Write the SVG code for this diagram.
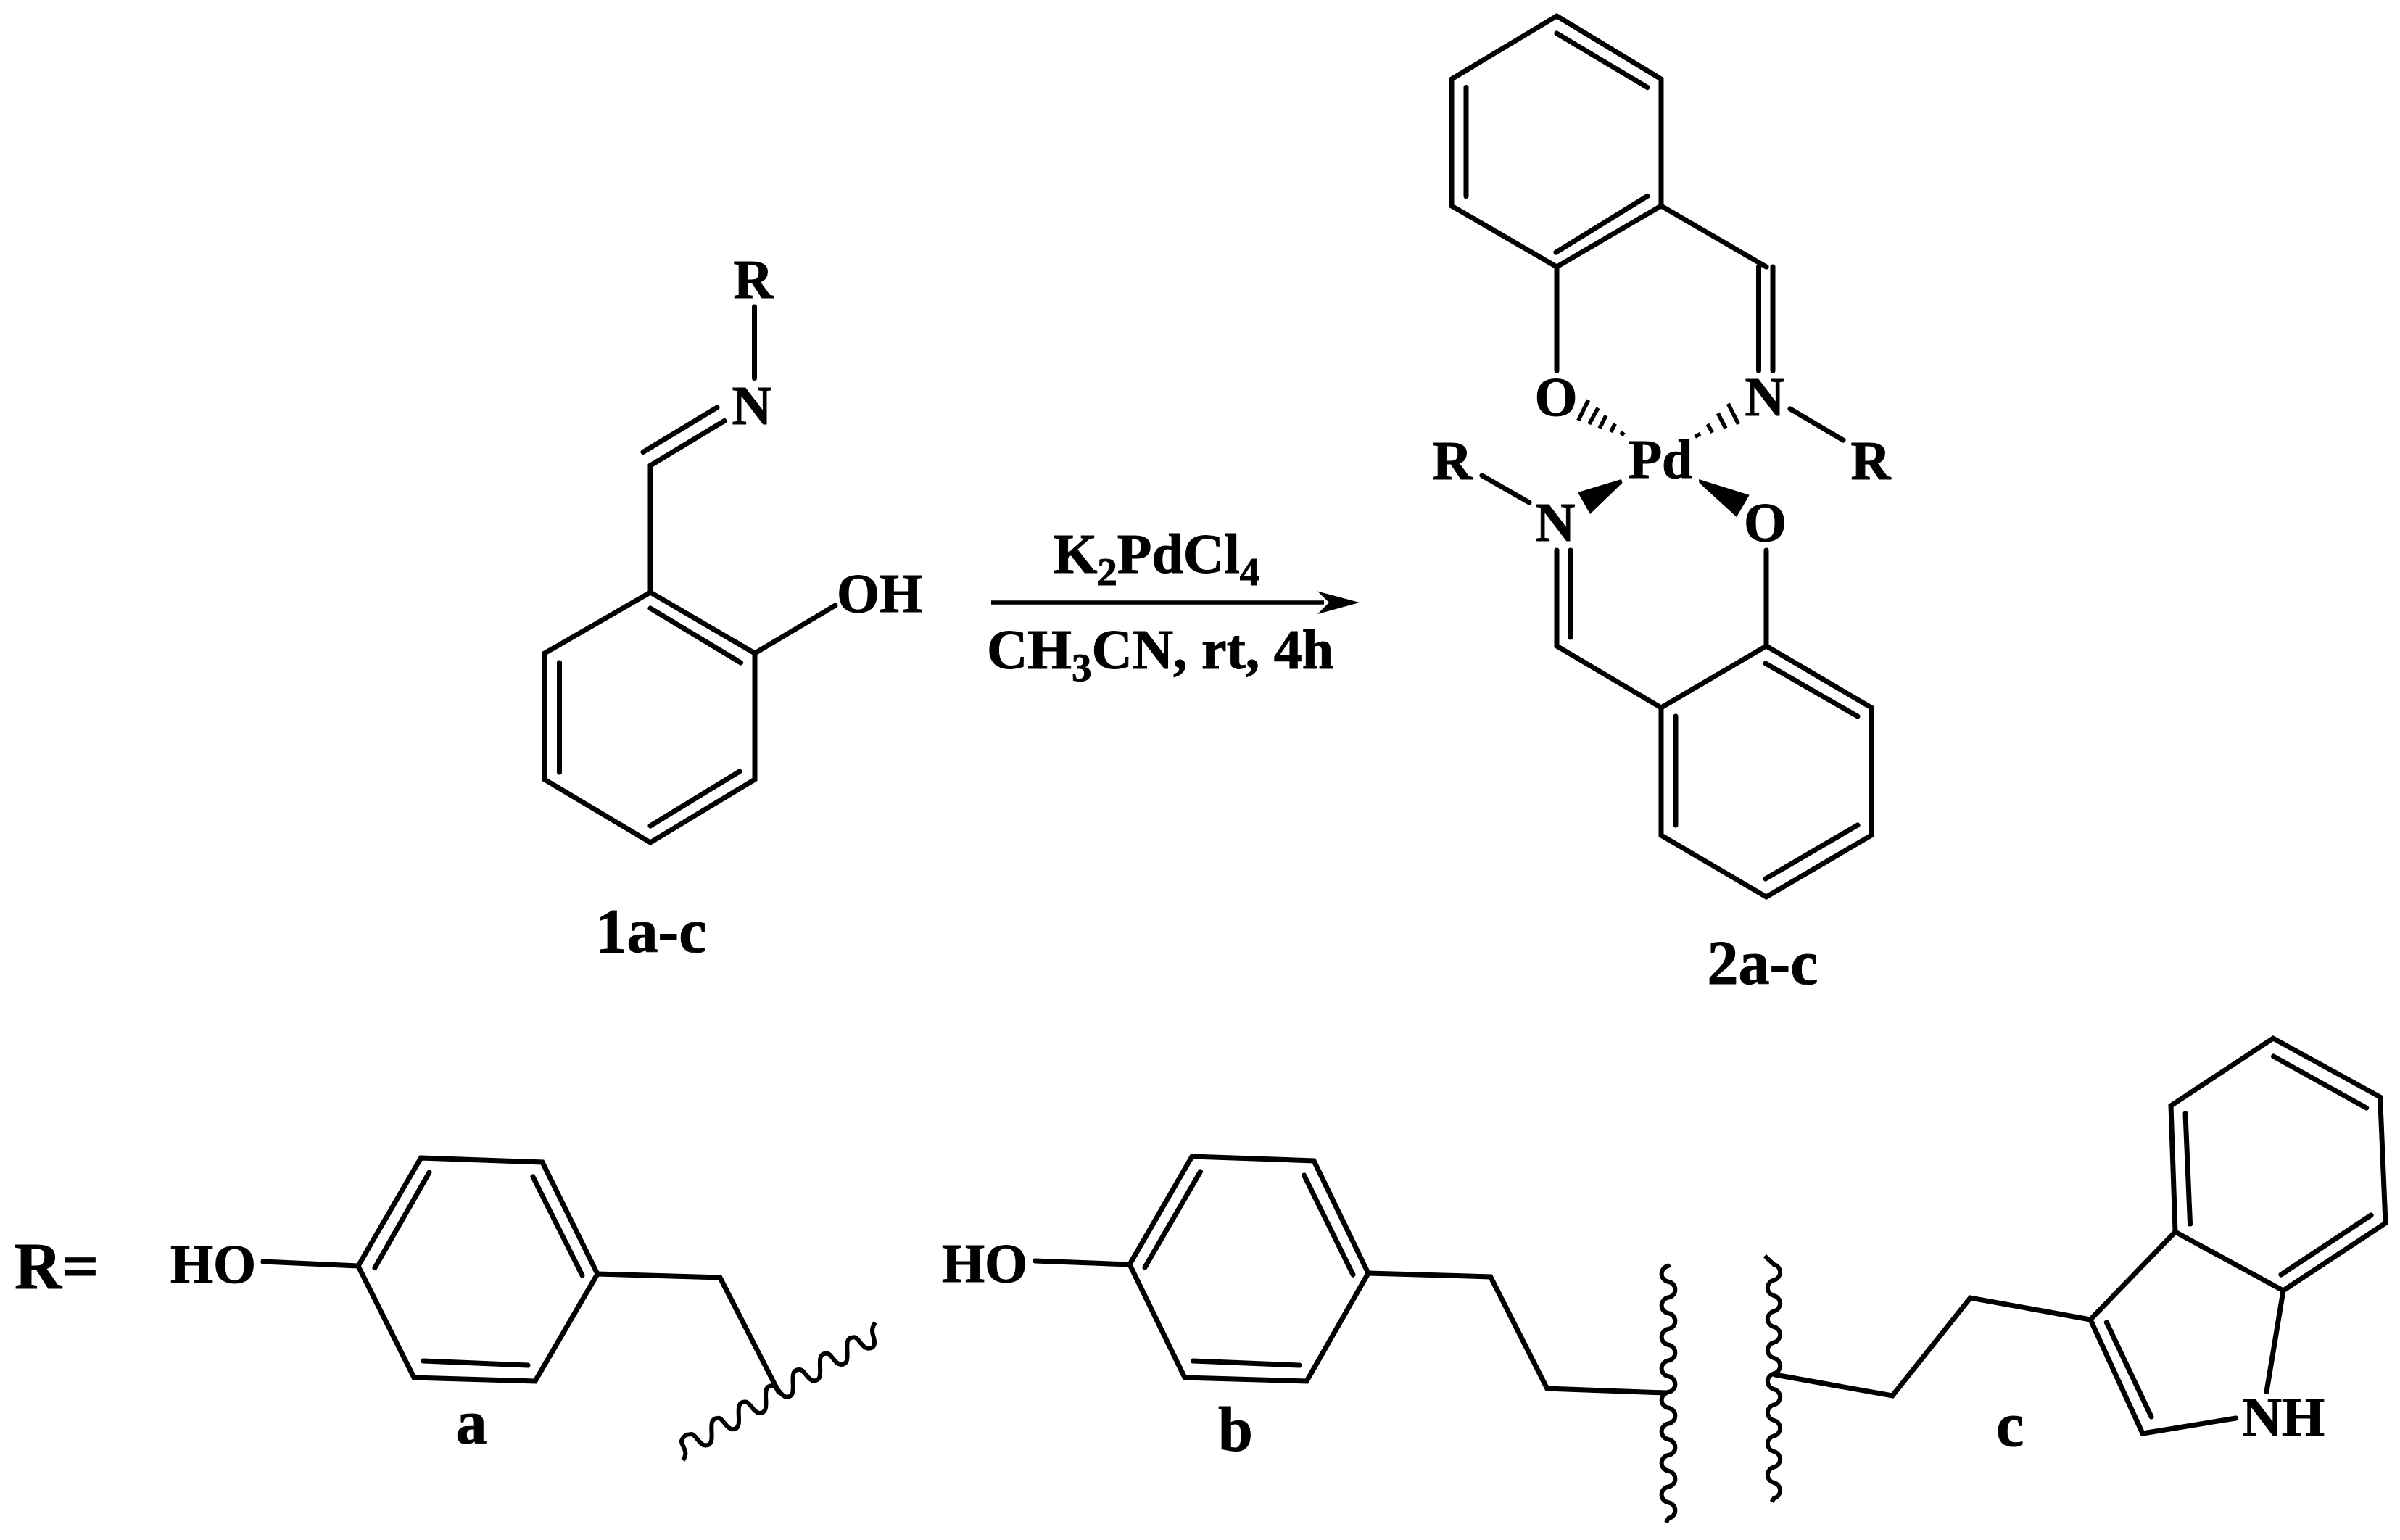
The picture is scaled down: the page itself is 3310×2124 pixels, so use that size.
<svg xmlns="http://www.w3.org/2000/svg" width="3310" height="2124" viewBox="0 0 3310 2124">
<defs>
<style>
.b{fill:none;stroke:#000;stroke-width:7;stroke-linecap:round;stroke-linejoin:miter;stroke-miterlimit:10}
.w{fill:none;stroke:#000;stroke-width:6;stroke-linecap:butt;stroke-linejoin:round}
.s{fill:#000;stroke:none}
text{font-family:"Liberation Serif","Times New Roman",serif;font-weight:700;fill:#000;stroke:#000;stroke-width:1}
.a{font-size:76px;text-anchor:middle}
.l{font-size:86px;text-anchor:middle}
.r{font-size:78px;text-anchor:middle}
.u{font-size:55px}
</style>
</defs>
<rect width="3310" height="2124" fill="#fff"/>

<g id="compound-1">
<path class="b" d="M897,817L1041,901V1075L897,1162L751,1075V901Z"/>
<path class="b" d="M897,839L1021.500,914M771.500,914V1065M897,1139L1020,1064"/>
<path class="b" d="M897,817V642L999,580.500M887,623.500L989,562M1040.500,521.500V423M1041,901L1152,835"/>
<text class="a" x="1039" y="411">R</text>
<text class="a" x="1037" y="585">N</text>
<text class="a" x="1213" y="844">OH</text>
<text class="l" x="898" y="1313">1a-c</text>
</g>

<g id="connectors">
<path d="M1367,831H1826" fill="none" stroke="#000" stroke-width="5.500"/>
<polygon class="s" points="1875,831 1817,815.500 1833,831 1817,847"/>
</g>

<g id="conditions">
<text class="r" x="1595" y="790">K<tspan class="u" dy="17">2</tspan><tspan dy="-17">PdCl</tspan><tspan class="u" dy="17">4</tspan></text>
<text class="r" x="1600" y="922">CH<tspan class="u" dy="17">3</tspan><tspan dy="-17">CN, rt, 4h</tspan></text>
</g>

<g id="compound-2">
<path class="b" d="M2147,22L2291,109V284L2147,368L2002,284V109Z"/>
<path class="b" d="M2147,46L2272,120.500M2022,120.500V270.500M2146,348L2272,270.500"/>
<path class="b" d="M2291,284L2436,368M2425.500,368V511M2445,368V511M2147,368V511M2469,564L2542,607"/>
<path class="b" d="M2436,891L2581,976V1152L2436,1237L2291,1152V976Z"/>
<path class="b" d="M2435,915L2562,988M2311,988V1138M2435,1212L2562,1138"/>
<path class="b" d="M2147,891L2291,976M2147,759V891M2166,759V879M2436,759V891M2044,656L2109,693"/>
<path d="M2190.700,551.700L2176.700,580M2204,562.700L2191.700,585M2215,573.300L2206,590.700M2227.300,584.300L2221.700,596M2235,596L2240,600M2383.300,556.700L2397.700,585M2369.300,570L2380,590.700M2355,585L2361.700,596.700M2337.700,602.300L2345,598.300" fill="none" stroke="#000" stroke-width="5.500"/>
<polygon class="s" points="2236,661 2237.500,666 2193,709 2176,679"/>
<polygon class="s" points="2343,661 2412.700,682.700 2395,713 2343.500,666"/>
<text class="a" x="2146" y="573">O</text>
<text class="a" x="2434" y="573">N</text>
<text class="a" x="2580" y="661">R</text>
<text class="a" x="2290" y="659">Pd</text>
<text class="a" x="2003" y="661">R</text>
<text class="a" x="2145" y="746">N</text>
<text class="a" x="2434.500" y="746">O</text>
<text class="l" x="2431" y="1357">2a-c</text>
</g>

<g id="r-label">
<text font-size="90" x="20" y="1777">R=</text>
</g>

<g id="substituent-a">
<path class="b" d="M580.500,1597L748,1603L824,1757L738,1905L571,1900L494,1746Z"/>
<path class="b" d="M592,1617L517,1748.500M735,1623L803,1759M584,1877L728,1883"/>
<path class="b" d="M363,1740L494,1746M824,1757L993,1762L1074,1920"/>
<path class="w" d="M942,2014C952,2000 936,1992 941,1985C943,1980 948,1978 952.300,1978.200c6.900,-1.700 12,15.400 20.600,15.400c18.900,0 -1.700,-37.700 16.800,-37.700c6.900,-1.700 12,15.400 20.600,15.400c18.900,0 -1.700,-37.700 16.800,-37.700c6.900,-1.700 12,15.400 20.600,15.400c18.900,0 -1.700,-37.700 16.800,-37.700c6.900,-1.700 12,15.400 20.600,15.400c18.900,0 -1.700,-37.700 16.800,-37.700c6.900,-1.700 12,15.400 20.600,15.400c18.900,0 -1.700,-37.700 16.800,-37.700c6.900,-1.700 12,15.400 20.600,15.400c18.900,0 -1.700,-37.700 16.800,-37.700c6.900,-1.700 12,15.400 20.600,15.400C1207,1860 1207,1852 1205,1845C1202,1836 1202,1832 1207,1824"/>
<text class="a" x="294" y="1769">HO</text>
<text class="l" x="650" y="1991">a</text>
</g>

<g id="substituent-b">
<path class="b" d="M1644,1595L1812,1601L1887,1756L1802,1905L1634,1900L1558,1744Z"/>
<path class="b" d="M1655.500,1616L1579,1748M1798.600,1621L1866,1758M1645.600,1877L1792,1883"/>
<path class="b" d="M1427.500,1739L1558,1744M1887,1756L2055.700,1761L2133.700,1915L2297,1921"/>
<path class="w" d="M2303,1744L2301,1746a11 11 0 0 0 0 21.750a11 11 0 0 1 0 21.750a11 11 0 0 0 0 21.750a11 11 0 0 1 0 21.750a11 11 0 0 0 0 21.750a11 11 0 0 1 0 21.750a11 11 0 0 0 0 21.750a11 11 0 0 1 0 21.750a11 11 0 0 0 0 21.750a11 11 0 0 1 0 21.750a11 11 0 0 0 0 21.750a11 11 0 0 1 0 21.750a11 11 0 0 0 0 21.750a11 11 0 0 1 0 21.750a11 11 0 0 0 0 21.750a11 11 0 0 1 0 21.750l-3,6"/>
<text class="a" x="1358" y="1768">HO</text>
<text class="l" x="1704" y="2000">b</text>
</g>

<g id="substituent-c">
<path class="b" d="M3135,1432L3282.600,1513L3290,1687L3149,1780L3000,1699L2994,1525Z"/>
<path class="b" d="M3135.600,1457L3263.600,1528M3014,1536L3020.500,1688M3146,1758L3270,1676"/>
<path class="b" d="M3000,1699L2883,1820L2955,1977L3083.600,1956M3149,1780L3126,1919.400M2905.400,1824L2967,1954"/>
<path class="b" d="M2883,1820L2717.400,1790L2610,1925L2448,1896"/>
<path class="w" d="M2434,1732L2438,1736L2446.500,1744a11 11 0 0 1 0 21.500a11 11 0 0 0 0 21.500a11 11 0 0 1 0 21.500a11 11 0 0 0 0 21.500a11 11 0 0 1 0 21.500a11 11 0 0 0 0 21.500a11 11 0 0 1 0 21.500a11 11 0 0 0 0 21.500a11 11 0 0 1 0 21.500a11 11 0 0 0 0 21.500a11 11 0 0 1 0 21.500a11 11 0 0 0 0 21.500a11 11 0 0 1 0 21.500a11 11 0 0 0 0 21.500a11 11 0 0 1 0 21.500l-3,5"/>
<text class="a" x="3149" y="1980">NH</text>
<text class="l" x="2772" y="1994">c</text>
</g>
</svg>
